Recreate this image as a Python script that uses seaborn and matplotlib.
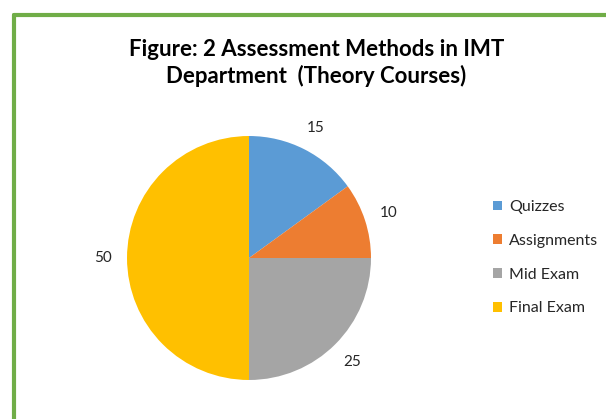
import matplotlib
matplotlib.use("Agg")
import matplotlib.pyplot as plt
from matplotlib.lines import Line2D
import seaborn as sns

# Assessment methods and their weights (%)
methods = ["Quizzes", "Assignments", "Mid Exam", "Final Exam"]
weights = [15, 10, 25, 50]
colors = ["#5B9BD5", "#ED7D31", "#A5A5A5", "#FFC000"]

sns.set_theme(style="white")
plt.rcParams["font.family"] = ["Lato", "DejaVu Sans"]

fig = plt.figure(figsize=(6.06, 4.19), dpi=100)
fig.patch.set_facecolor("white")

# pie axes, centred around (249, 258) px with radius ~122 px
ax = fig.add_axes([0.2096, 0.0931, 0.4026, 0.5823])
wedges, texts, autotexts = ax.pie(
    weights,
    colors=colors,
    startangle=90,
    counterclock=False,
    autopct=lambda p: f"{p * sum(weights) / 100:.0f}",
    pctdistance=1.2,
    wedgeprops=dict(linewidth=0),
    textprops=dict(fontsize=11, color="#262626"),
)
ax.set_xlim(-1, 1)
ax.set_ylim(-1, 1)
ax.set_aspect("equal")
ax.axis("off")

fig.text(0.522, 0.85, "Figure: 2 Assessment Methods in IMT\nDepartment  (Theory Courses)",
         ha="center", va="center", fontsize=16, fontweight="bold",
         linespacing=1.3, color="black")

fig.legend(wedges, methods, loc="center left", bbox_to_anchor=(0.790, 0.385),
           frameon=False, fontsize=11.5, handlelength=0.55, handleheight=0.55,
           handletextpad=0.45, labelspacing=1.24, labelcolor="#262626")

# green frame around the chart (top and left edges visible)
fig.add_artist(Line2D([0.0231, 0.0231], [0.0, 0.964], transform=fig.transFigure,
                      color="#70AD47", linewidth=3))
fig.add_artist(Line2D([0.0231, 1.0], [0.964, 0.964], transform=fig.transFigure,
                      color="#70AD47", linewidth=3))

plt.savefig("out.png", dpi=100)
plt.close()
